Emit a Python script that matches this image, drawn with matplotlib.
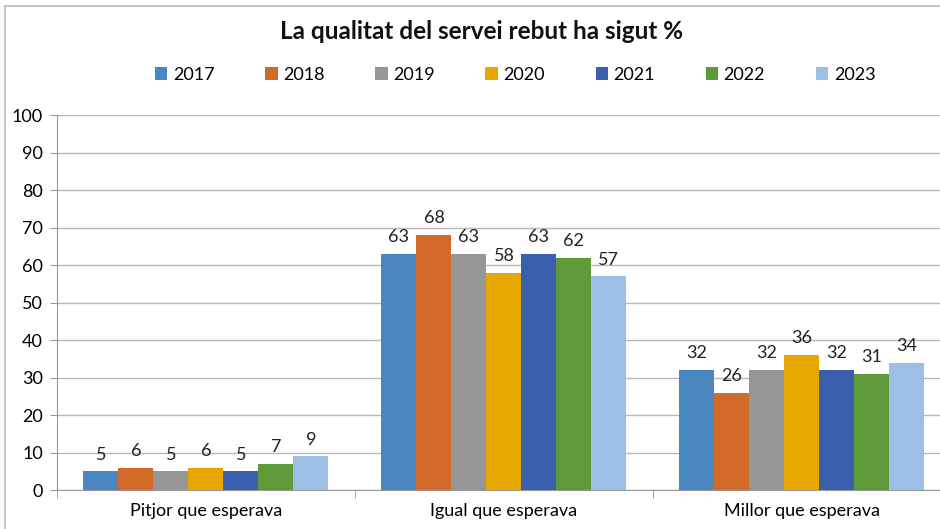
import numpy as np
import matplotlib.pyplot as plt

# Dades
categories = ['Pitjor que esperava', 'Igual que esperava', 'Millor que esperava']
years = ['2017', '2018', '2019', '2020', '2021', '2022', '2023']
values = {
    '2017': [5, 63, 32],
    '2018': [6, 68, 26],
    '2019': [5, 63, 32],
    '2020': [6, 58, 36],
    '2021': [5, 63, 32],
    '2022': [7, 62, 31],
    '2023': [9, 57, 34],
}
colors = ['#4a86c0', '#d46a28', '#969696', '#e6a800', '#3a5fad', '#5e9a3a', '#9dbfe5']

plt.rcParams['font.family'] = ['Lato', 'DejaVu Sans']

fig = plt.figure(figsize=(9.4, 5.29), dpi=100)
# la zona del grafic surt una mica per la dreta (imatge retallada)
ax = fig.add_axes([0.0606, 0.0737, 0.951, 0.7089])

x = np.arange(len(categories))
n = len(years)
group_w = 0.822
w = group_w / n

for i, yr in enumerate(years):
    pos = x - group_w / 2 + w * (i + 0.5)
    bars = ax.bar(pos, values[yr], w, color=colors[i], label=yr, zorder=3)
    for b, v in zip(bars, values[yr]):
        ax.text(b.get_x() + b.get_width() / 2, v + 2.3, str(v),
                ha='center', va='bottom', fontsize=13, color='#222222')

ax.set_ylim(0, 100)
ax.set_yticks(range(0, 101, 10))
ax.set_xlim(-0.5, len(categories) - 0.5)
ax.grid(axis='y', color='#b8b8b8', linewidth=1, zorder=0)

ax.set_xticks(x)
ax.set_xticklabels(categories, fontsize=13)
ax.set_xticks(np.arange(-0.5, len(categories)), minor=True)
ax.tick_params(axis='x', which='major', length=0, pad=9)
ax.tick_params(axis='x', which='minor', length=6, color='#999999')
ax.tick_params(axis='y', labelsize=13, length=5, color='#999999', pad=5)

for s in ['top', 'right']:
    ax.spines[s].set_visible(False)
ax.spines['left'].set_color('#999999')
ax.spines['bottom'].set_color('#999999')

fig.text(0.512, 0.94, 'La qualitat del servei rebut ha sigut %', ha='center', va='center',
         fontsize=17.5, fontweight='bold', color='#111111')
fig.legend(loc='center', bbox_to_anchor=(0.548, 0.858), ncol=7, frameon=False,
           fontsize=13, handlelength=0.7, handleheight=0.7, columnspacing=2.8,
           handletextpad=0.3)

# marc exterior (nomes dalt i esquerra visibles)
fig.add_artist(plt.Line2D([0.005, 1.0], [0.988, 0.988], transform=fig.transFigure,
                          color='#c8c8c8', linewidth=1.5))
fig.add_artist(plt.Line2D([0.005, 0.005], [0.0, 0.988], transform=fig.transFigure,
                          color='#c8c8c8', linewidth=1.5))

fig.savefig('out.png', dpi=100)
